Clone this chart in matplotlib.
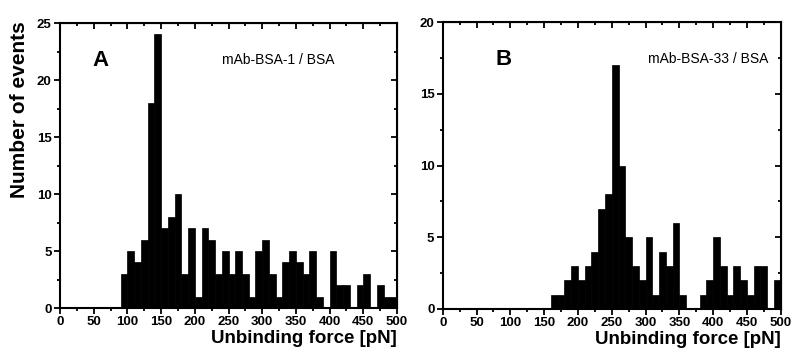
import matplotlib.pyplot as plt
from matplotlib.ticker import MultipleLocator

plt.rcParams['font.family'] = ['Liberation Sans', 'DejaVu Sans']
plt.rcParams['font.weight'] = 'bold'

# histogram bins: left edges in pN, 10 pN wide
edges_a = list(range(90, 500, 10))
counts_a = [3, 5, 4, 6, 18, 24, 7, 8, 10, 3, 7, 1, 7, 6, 3, 5, 3, 5, 3, 1,
            5, 6, 3, 1, 4, 5, 4, 3, 5, 1, 0, 5, 2, 2, 0, 2, 3, 0, 2, 1, 1]

edges_b = list(range(160, 500, 10))
counts_b = [1, 1, 2, 3, 2, 3, 4, 7, 8, 17, 10, 5, 3, 2, 5, 1, 4, 3, 6, 1,
            0, 0, 1, 2, 5, 3, 1, 3, 2, 1, 3, 3, 0, 2]

xticks = list(range(0, 501, 50))
yticks_a = [0, 5, 10, 15, 20, 25]
yticks_b = [0, 5, 10, 15, 20]

fig = plt.figure(figsize=(7.92, 3.63), dpi=100)
ax1 = fig.add_axes([0.0758, 0.1515, 0.4255, 0.785])
ax2 = fig.add_axes([0.559, 0.1488, 0.4268, 0.79])

panels = [(ax1, edges_a, counts_a, yticks_a, "A", "mAb-BSA-1 / BSA", 0.095, 0.48, 'left'),
          (ax2, edges_b, counts_b, yticks_b, "B", "mAb-BSA-33 / BSA", 0.155, 0.962, 'right')]

for ax, edges, counts, yticks, letter, name, lx, nx, nha in panels:
    ax.bar(edges, counts, width=10, align='edge', color='black',
           edgecolor='black', linewidth=0.5)
    ax.set_xlim(0, 500)
    ax.set_ylim(0, yticks[-1])
    ax.set_xticks(xticks, [str(t) for t in xticks], fontweight='bold', fontsize=9.5)
    ax.set_yticks(yticks, [str(t) for t in yticks], fontweight='bold', fontsize=9.5)
    ax.xaxis.set_minor_locator(MultipleLocator(25))
    ax.yaxis.set_minor_locator(MultipleLocator(2.5))
    for s in ax.spines.values():
        s.set_linewidth(1.5)
    ax.tick_params(which='both', direction='out', width=1.3, pad=2)
    ax.tick_params(which='major', length=4)
    ax.tick_params(which='minor', length=2.5)

    # inward ticks on top and right
    top = ax.secondary_xaxis('top')
    top.xaxis.set_major_locator(MultipleLocator(50))
    top.xaxis.set_minor_locator(MultipleLocator(25))
    top.tick_params(which='both', direction='in', labeltop=False, width=1.3)
    top.tick_params(which='major', length=4)
    top.tick_params(which='minor', length=2.5)
    right = ax.secondary_yaxis('right')
    right.yaxis.set_major_locator(MultipleLocator(5))
    right.yaxis.set_minor_locator(MultipleLocator(2.5))
    right.tick_params(which='both', direction='in', labelright=False, width=1.3)
    right.tick_params(which='major', length=4)
    right.tick_params(which='minor', length=2.5)

    ax.set_xlabel("Unbinding force [pN]", fontsize=13.5, fontweight='bold',
                  loc='right', labelpad=1)
    ax.text(lx, 0.87, letter, transform=ax.transAxes, fontsize=16,
            fontweight='bold', va='center')
    ax.text(nx, 0.87, name, transform=ax.transAxes, fontsize=10,
            fontweight='normal', ha=nha, va='center')

fig.text(0.025, 0.697, "Number of events", rotation=90, fontsize=15,
         fontweight='bold', ha='center', va='center')

fig.savefig("out.png", dpi=100)
